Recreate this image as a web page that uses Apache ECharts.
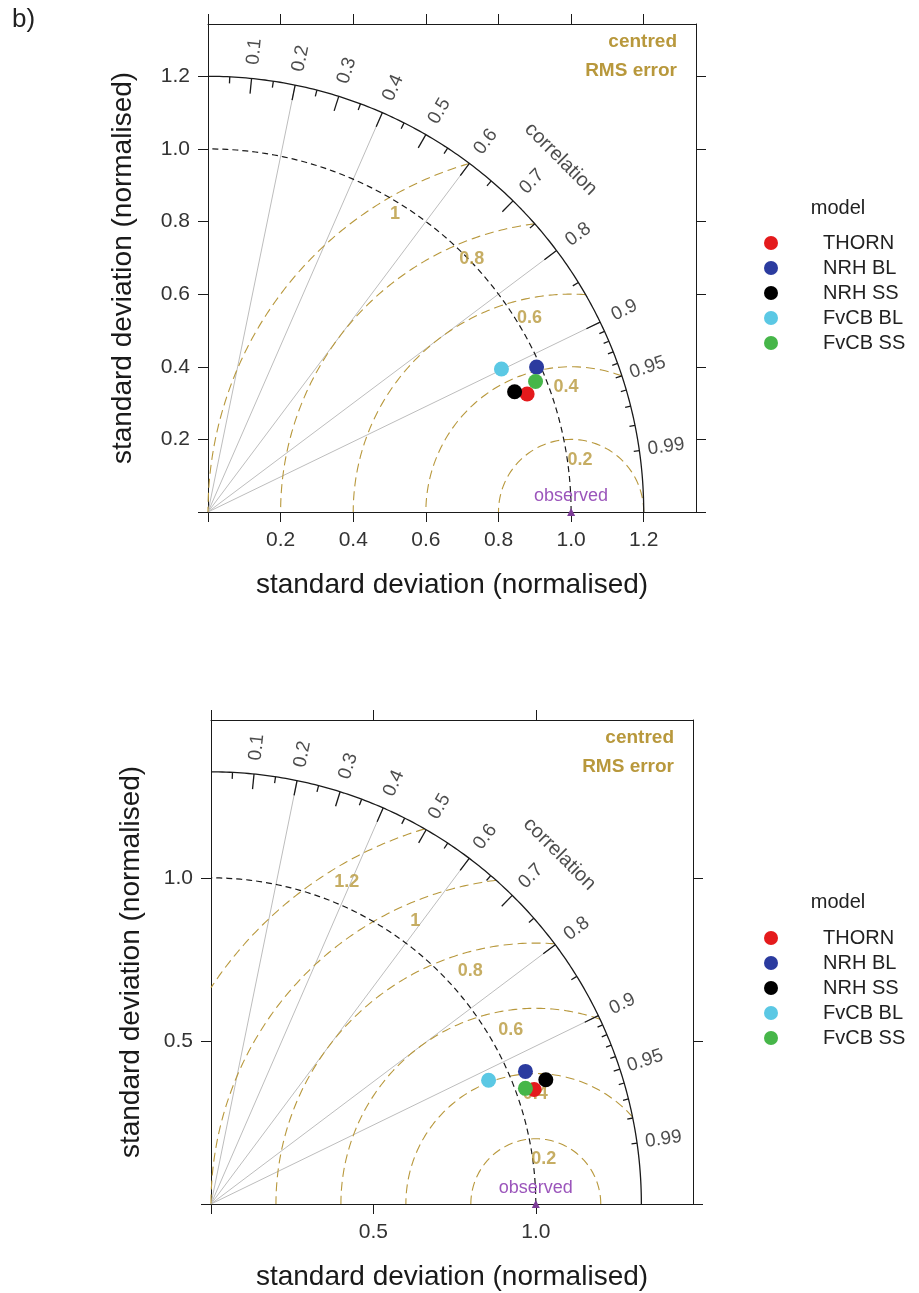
<!DOCTYPE html>
<html>
<head>
<meta charset="utf-8">
<script src="https://cdn.jsdelivr.net/npm/echarts@6/dist/echarts.min.js"></script>
<style>
  html, body { margin: 0; padding: 0; background: #ffffff; }
  #chart { width: 919px; height: 1293px; }
</style>
</head>
<body>
<div id="chart"></div>
<script>
// ---- data -------------------------------------------------------------
const models = ['THORN', 'NRH BL', 'NRH SS', 'FvCB BL', 'FvCB SS'];

// upper diagram: normalised standard deviation and correlation per model
const upperSd   = [0.937, 0.989, 0.907, 0.899, 0.971];
const upperCorr = [0.938, 0.915, 0.931, 0.899, 0.929];
// lower diagram
const lowerSd   = [1.055, 1.050, 1.099, 0.935, 1.031];
const lowerCorr = [0.943, 0.922, 0.938, 0.914, 0.939];

const observedSd = 1;
const upperMaxSd = 1.2;
const lowerMaxSd = 1.325;

const upperSdTicks = [0, 0.2, 0.4, 0.6, 0.8, 1.0, 1.2];
const lowerSdTicks = [0, 0.5, 1.0];

const upperRms = [0.2, 0.4, 0.6, 0.8, 1];
const lowerRms = [0.2, 0.4, 0.6, 0.8, 1, 1.2];

const corrLabels = [0.1, 0.2, 0.3, 0.4, 0.5, 0.6, 0.7, 0.8, 0.9, 0.95, 0.99];
const corrLines  = [0.2, 0.4, 0.6, 0.8, 0.9];
const corrBigTicks = [0.1, 0.2, 0.3, 0.4, 0.5, 0.6, 0.7, 0.8, 0.9];
const corrMedTicks = [0.05, 0.15, 0.25, 0.35, 0.45, 0.55, 0.65, 0.75, 0.85, 0.95];
const corrSmallTicks = [0.91, 0.92, 0.93, 0.94, 0.96, 0.97, 0.98, 0.99];

// ---- styling ----------------------------------------------------------
const FONT = '"Liberation Sans", Arial, Helvetica, sans-serif';
const modelColors = ['#e41a1c', '#2b3b9f', '#000000', '#5bc8e4', '#46b649'];
const GOLD = '#b8983c';
const INK = '#1a1a1a';
const AXIS_TITLE = 'standard deviation (normalised)';

const layout = [
  { grid: { left: 208, top: 24, width: 488, height: 488 }, xNameGap: 59, yNameGap: 71, legendTop: 233, modelY: 208 },
  { grid: { left: 211, top: 720, width: 482, height: 484 }, xNameGap: 59, yNameGap: 66, legendTop: 928, modelY: 902 }
];

const panels = [
  { maxSd: upperMaxSd, ticks: upperSdTicks, rms: upperRms, sd: upperSd, corr: upperCorr },
  { maxSd: lowerMaxSd, ticks: lowerSdTicks, rms: lowerRms, sd: lowerSd, corr: lowerCorr }
];

// polar (sd, correlation) -> cartesian
const toXY = (sd, r) => [sd * r, sd * Math.sqrt(Math.max(0, 1 - r * r))];

function arcPoints(cx, radius, t0, t1, n) {
  const pts = [];
  for (let i = 0; i <= n; i++) {
    const t = t0 + (t1 - t0) * i / n;
    pts.push([cx + radius * Math.cos(t), radius * Math.sin(t)]);
  }
  return pts;
}

function sdAxis(gridIndex, position, max, ticks, main, nameGap) {
  return {
    type: 'value', gridIndex, position, min: 0, max,
    interval: ticks[1] - ticks[0],
    splitLine: { show: false },
    axisLine: { show: true, onZero: false, lineStyle: { color: INK, width: 1 } },
    axisTick: { show: true, inside: false, length: 10, customValues: ticks, lineStyle: { color: INK, width: 1 } },
    axisLabel: {
      show: main, customValues: ticks.filter(v => v > 0),
      formatter: v => Number(v).toFixed(1),
      margin: 18, fontSize: 21, color: '#333', fontFamily: FONT
    },
    name: main ? AXIS_TITLE : '',
    nameLocation: 'middle', nameGap,
    nameTextStyle: { fontSize: 28, color: INK, fontFamily: FONT }
  };
}

const xAxis = [], yAxis = [], series = [], legend = [], graphic = [];

panels.forEach((p, i) => {
  const L = layout[i];
  const axisMax = +(p.maxSd * 1.12).toFixed(4);
  xAxis.push(sdAxis(i, 'bottom', axisMax, p.ticks, true, L.xNameGap));
  xAxis.push(sdAxis(i, 'top', axisMax, p.ticks, false, 0));
  yAxis.push(sdAxis(i, 'left', axisMax, p.ticks, true, L.yNameGap));
  yAxis.push(sdAxis(i, 'right', axisMax, p.ticks, false, 0));
  const ax = { xAxisIndex: 2 * i, yAxisIndex: 2 * i };

  // correlation rays
  series.push({
    type: 'lines', coordinateSystem: 'cartesian2d', ...ax, silent: true, z: 1,
    lineStyle: { color: '#bdbdbd', width: 1, opacity: 1 },
    data: corrLines.map(c => ({ coords: [[0, 0], toXY(p.maxSd, c)] }))
  });

  // centred RMS error arcs around the observed point
  p.rms.forEach(g => {
    let t0 = 0;
    if (observedSd + g > p.maxSd) {
      const c = (p.maxSd * p.maxSd - observedSd * observedSd - g * g) / (2 * g * observedSd);
      t0 = Math.acos(Math.min(1, Math.max(-1, c)));
    }
    const t1 = g > observedSd ? Math.acos(-observedSd / g) : Math.PI;
    series.push({
      type: 'line', ...ax, silent: true, showSymbol: false, symbol: 'none', z: 2,
      lineStyle: { color: GOLD, width: 1.1, type: [9, 5] },
      data: arcPoints(observedSd, g, t0, t1, 160)
    });
  });

  // RMS labels
  const n = p.rms.length;
  series.push({
    type: 'scatter', ...ax, silent: true, symbolSize: 1, z: 4, clip: false,
    itemStyle: { color: 'rgba(0,0,0,0)' },
    label: {
      show: true, position: 'inside', offset: [0, 20], formatter: d => d.name,
      fontSize: 18, fontWeight: 'bold', color: GOLD, fontFamily: FONT
    },
    data: p.rms.map((g, k) => {
      const a = (83 + 36 * k / (n - 1)) * Math.PI / 180;
      return { name: String(g), value: [observedSd + g * Math.cos(a), g * Math.sin(a)] };
    })
  });

  // reference sd arc (dashed) and outer arc (solid)
  series.push({
    type: 'line', ...ax, silent: true, showSymbol: false, symbol: 'none', z: 3,
    lineStyle: { color: INK, width: 1.2, type: [6, 4] },
    data: arcPoints(0, observedSd, 0, Math.PI / 2, 120)
  });
  series.push({
    type: 'line', ...ax, silent: true, showSymbol: false, symbol: 'none', z: 3, clip: false,
    lineStyle: { color: INK, width: 1.3 },
    data: arcPoints(0, p.maxSd, 0, Math.PI / 2, 180)
  });

  // correlation tick marks on the outer arc
  const tick = (list, inner) => list.map(c => ({ coords: [toXY(p.maxSd, c), toXY(p.maxSd * inner, c)] }));
  series.push({
    type: 'lines', coordinateSystem: 'cartesian2d', ...ax, silent: true, z: 3,
    lineStyle: { color: INK, width: 1.3, opacity: 1 },
    data: [].concat(tick(corrBigTicks, 0.965), tick(corrMedTicks, 0.985), tick(corrSmallTicks, 0.987))
  });

  // correlation labels and axis caption
  series.push({
    type: 'scatter', ...ax, silent: true, symbolSize: 1, z: 4, clip: false,
    itemStyle: { color: 'rgba(0,0,0,0)' },
    label: { show: true, position: 'inside', formatter: d => d.name, fontSize: 19, color: '#1e1e1e', fontFamily: FONT },
    data: corrLabels.map(c => ({
      name: String(c), value: toXY(p.maxSd * 1.062, c),
      label: { rotate: Math.acos(c) * 180 / Math.PI }
    })).concat([{
      name: 'correlation', value: toXY(p.maxSd * 1.145, Math.SQRT1_2), label: { rotate: -45, fontSize: 20 }
    }])
  });

  // observed reference point
  series.push({
    type: 'scatter', ...ax, silent: true, z: 5, clip: false,
    symbol: 'triangle', symbolSize: 8, itemStyle: { color: '#7d3c98', opacity: 1 },
    label: { show: true, position: 'inside', offset: [0, -16], formatter: 'observed', fontSize: 18, color: '#9b55bb', fontFamily: FONT },
    data: [[observedSd, 0]]
  });

  // model points
  models.forEach((m, k) => {
    series.push({
      type: 'scatter', name: m, ...ax, z: 6,
      symbol: 'circle', symbolSize: 15,
      itemStyle: { color: modelColors[k], opacity: 1 },
      data: [toXY(p.sd[k], p.corr[k])]
    });
  });

  legend.push({
    data: models, orient: 'vertical', left: 764, top: L.legendTop,
    itemWidth: 14, itemHeight: 14, itemGap: 5, padding: 0, icon: 'circle', selectedMode: false,
    itemStyle: { opacity: 1 },
    textStyle: { fontSize: 20, lineHeight: 20, color: '#222', fontFamily: FONT, padding: [0, 0, 0, 40] }
  });

  graphic.push({
    type: 'text', x: 838, y: L.modelY,
    style: { text: 'model', fontSize: 20, fontFamily: FONT, fill: '#222', align: 'center', verticalAlign: 'middle', textAlign: 'center', textVerticalAlign: 'middle' }
  });
  const right = L.grid.left + L.grid.width - 19;
  [['centred', 18], ['RMS error', 47]].forEach(([t, dy]) => {
    graphic.push({
      type: 'text', x: right, y: L.grid.top + dy,
      style: { text: t, fontSize: 19, fontWeight: 'bold', fontFamily: FONT, fill: GOLD, align: 'right', verticalAlign: 'middle', textAlign: 'right', textVerticalAlign: 'middle' }
    });
  });
});

graphic.push({
  type: 'text', x: 12, y: 20,
  style: { text: 'b)', fontSize: 26, fontFamily: FONT, fill: '#222', align: 'left', verticalAlign: 'middle', textAlign: 'left', textVerticalAlign: 'middle' }
});

const chart = echarts.init(document.getElementById('chart'), null, { renderer: 'canvas' });
chart.setOption({
  animation: false,
  backgroundColor: '#ffffff',
  grid: layout.map(L => ({ ...L.grid, containLabel: false })),
  xAxis, yAxis, series, legend, graphic
});
</script>
</body>
</html>
